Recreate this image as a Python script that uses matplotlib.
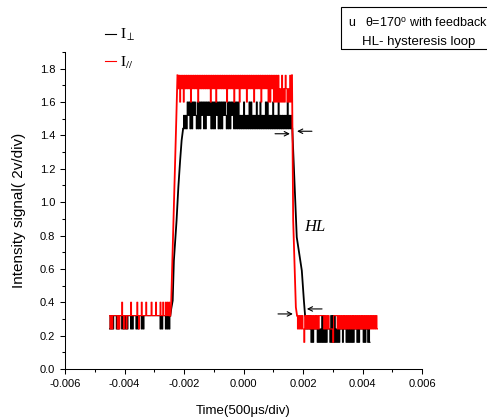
import numpy as np
import matplotlib
matplotlib.use('Agg')
import matplotlib.pyplot as plt
from matplotlib.lines import Line2D
from matplotlib.patches import Rectangle

# Scope traces. The noisy stretches are written one character per sample,
# each character is a quantised scope level (see the *_levels dicts).
# Edges are (time, value) points.

# ---- I_perp (black) ----
perp_left_span = (-0.0045, -0.00246)
perp_left_levels = {'0': 0.24, '1': 0.32}
perp_left_code = ("01010" "111" "0101" "11" "0101010" "111" "0101" "11" "010" "111" "010"
                  "111111111111111111"
                  "0101" "11" "010101")

perp_rise_t = [-0.00243, -0.00238, -0.00234, -0.00225, -0.00219, -0.00213, -0.00208]
perp_rise_v = [0.36, 0.41, 0.65, 0.89, 1.09, 1.25, 1.37]

perp_top_span = (-0.00203, 0.00164)
perp_top_levels = {'0': 1.44, '1': 1.52, '2': 1.60}
perp_top_code = ("01010"
                 "212" "0202" "121" "02020" "212" "0202" "1212" "02020" "212" "020202"
                 "121" "02020" "212" "02"
                 "0202" "0101" "020" "1010" "202" "0101" "02" "010" "20" "1010" "202"
                 "01010" "2" "0101" "02" "0101"
                 "01010201010")

perp_fall_t = [0.00179, 0.00196, 0.00203]
perp_fall_v = [0.79, 0.59, 0.41]

perp_right_span = (0.00207, 0.00425)
perp_right_levels = {'0': 0.16, '1': 0.24, '2': 0.32}
perp_right_code = ("2121212" "0101" "111" "01010" "202" "0101" "11" "020202" "01010" "111"
                   "01" "11" "01010" "10101" "11" "0101" "111" "010" "11" "010")

# ---- I_par (red) ----
par_left_span = (-0.0045, -0.00246)
par_left_levels = {'0': 0.24, '1': 0.32, '2': 0.40}
par_left_code = ("1010111110" "1011210110" "1111211111" "1210112111" "1211111211"
                 "1121111211" "211212121")

par_rise_t = [-0.00243, -0.00226]
par_rise_v = [0.40, 1.49]

par_top_span = (-0.00222, 0.00163)
par_top_levels = {'0': 1.60, '1': 1.68, '2': 1.76}
par_top_code = ("2120212021" "2121202121" "2120212121" "2121212021" "2120212121"
                "2121202121" "2120212120" "2121212021" "2121202121" "2120212121"
                "2020212020" "2020102010" "21010202")

par_fall_t = [0.00167, 0.00176]
par_fall_v = [0.89, 0.37]

par_right_span = (0.0018, 0.0045)
par_right_levels = {'0': 0.16, '1': 0.24, '2': 0.32}
par_right_code = ("2121212102" "1212121212" "1212122222" "1212121111" "0222212121"
                  "2121212121" "2121212121" "2121212121" "2121212121")

x_ticks = [-0.006, -0.004, -0.002, 0.0, 0.002, 0.004, 0.006]
x_tick_labels = ['-0.006', '-0.004', '-0.002', '0.000', '0.002', '0.004', '0.006']
y_ticks = [0.0, 0.2, 0.4, 0.6, 0.8, 1.0, 1.2, 1.4, 1.6, 1.8]
y_tick_labels = ['0.0', '0.2', '0.4', '0.6', '0.8', '1.0', '1.2', '1.4', '1.6', '1.8']


def decode(span, code, levels):
    t = np.linspace(span[0], span[1], len(code))
    return list(t), [levels[c] for c in code]


def draw_trace(ax, color, left, rise, top, fall, right):
    """Noisy parts as steps (each toggle a vertical stroke), edges as plain lines"""
    for t, v in (left, top, right):
        ax.plot(t, v, color=color, lw=0.8, drawstyle='steps-mid', snap=False)
    for (t, v), a, b in ((rise, left, top), (fall, top, right)):
        ax.plot([a[0][-1]] + t + [b[0][0]], [a[1][-1]] + v + [b[1][0]], color=color, lw=1.3)


def main():
    plt.rcParams['font.family'] = ['Liberation Sans', 'DejaVu Sans']
    plt.rcParams['mathtext.fontset'] = 'stix'
    plt.rcParams['axes.linewidth'] = 0.75
    plt.rcParams['path.simplify'] = False

    fig = plt.figure(figsize=(4.87, 4.19), dpi=100)
    ax = fig.add_axes([65 / 487, 1 - 369 / 419, 357 / 487, 317 / 419])

    draw_trace(ax, 'black',
               decode(perp_left_span, perp_left_code, perp_left_levels),
               (perp_rise_t, perp_rise_v),
               decode(perp_top_span, perp_top_code, perp_top_levels),
               (perp_fall_t, perp_fall_v),
               decode(perp_right_span, perp_right_code, perp_right_levels))
    draw_trace(ax, '#ff0000',
               decode(par_left_span, par_left_code, par_left_levels),
               (par_rise_t, par_rise_v),
               decode(par_top_span, par_top_code, par_top_levels),
               (par_fall_t, par_fall_v),
               decode(par_right_span, par_right_code, par_right_levels))

    ax.set_xlim(-0.006, 0.006)
    ax.set_ylim(0, 1.9)
    for side in ('top', 'right'):
        ax.spines[side].set_visible(False)

    ax.set_xticks(x_ticks)
    ax.set_xticklabels(x_tick_labels)
    ax.xaxis.set_minor_locator(plt.MultipleLocator(0.001))
    ax.set_yticks(y_ticks)
    ax.set_yticklabels(y_tick_labels)
    ax.yaxis.set_minor_locator(plt.MultipleLocator(0.1))
    ax.tick_params(which='major', direction='out', length=3.6, width=0.75, labelsize=8, pad=3.5)
    ax.tick_params(which='minor', direction='out', length=2.2, width=0.75)

    ax.set_xlabel('Time(500\u03bcs/div)', fontsize=9.5)
    ax.xaxis.set_label_coords(0.5, -0.113)
    ax.set_ylabel('Intensity signal( 2v/div)', fontsize=11)
    ax.yaxis.set_label_coords(-0.11, 0.5)

    handles = [Line2D([], [], color='black', lw=0.8), Line2D([], [], color='#ff0000', lw=0.8)]
    ax.legend(handles, [r'$\mathrm{I}_{\perp}$', r'$\mathrm{I}_{//}$'],
              loc='upper left', bbox_to_anchor=(105 / 487, 1 - 27 / 419),
              bbox_transform=fig.transFigure, frameon=False, fontsize=11,
              handlelength=0.75, handletextpad=0.2, labelspacing=0.75,
              borderpad=0, borderaxespad=0)

    ax.text(0.00205, 0.85, 'HL', family=['Liberation Serif'], style='italic', fontsize=12,
            va='center', ha='left')

    arrow = dict(arrowstyle='->', lw=0.8, color='black', shrinkA=0, shrinkB=0,
                 mutation_scale=8)
    ax.annotate('', xy=(0.00156, 1.41), xytext=(0.00106, 1.41), arrowprops=arrow)
    ax.annotate('', xy=(0.0018, 1.425), xytext=(0.0023, 1.425), arrowprops=arrow)
    ax.annotate('', xy=(0.00166, 0.33), xytext=(0.00116, 0.33), arrowprops=arrow)
    ax.annotate('', xy=(0.00213, 0.36), xytext=(0.00264, 0.36), arrowprops=arrow)

    # note box in the top right corner, runs off the right edge
    fig.add_artist(Rectangle((341 / 487, 1 - 49 / 419), 0.5, 42 / 419, fill=False,
                             lw=0.8, edgecolor='black', transform=fig.transFigure))
    fig.text(348 / 487, 1 - 23 / 419, 'u', fontsize=9, va='center', ha='left')
    fig.text(365 / 487, 1 - 23 / 419, '\u03b8=170$^{\\mathregular{o}}$ with feedback',
             fontsize=9, va='center', ha='left')
    fig.text(362 / 487, 1 - 42 / 419, 'HL- hysteresis loop', fontsize=9.5,
             va='center', ha='left')

    fig.savefig('out.png', dpi=100)


if __name__ == '__main__':
    main()
